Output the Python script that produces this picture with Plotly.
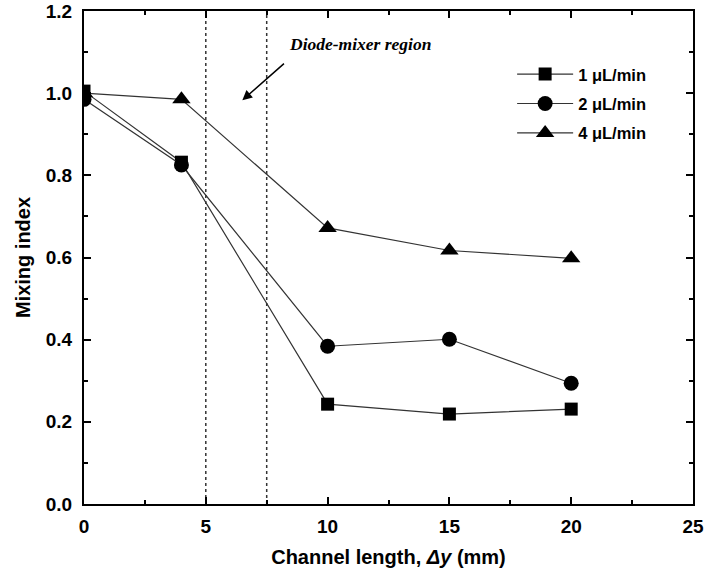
import plotly.graph_objects as go

x_vals = [0, 4, 10, 15, 20]
flow_1 = [1.005, 0.832, 0.243, 0.219, 0.231]
flow_2 = [0.985, 0.825, 0.384, 0.401, 0.294]
flow_4 = [1.000, 0.985, 0.672, 0.617, 0.598]
series_names = ["1 \u03bcL/min", "2 \u03bcL/min", "4 \u03bcL/min"]
region_bounds = [5, 7.5]

fig = go.Figure()
specs = [(flow_1, "square", 13), (flow_2, "circle", 15), (flow_4, "triangle-up", 16)]
for i, (name, (vals, sym, sz)) in enumerate(zip(series_names, specs)):
    fig.add_trace(go.Scatter(
        x=x_vals, y=vals, mode="lines+markers", name="<b>" + name + "</b>",
        legendgroup="g%d" % i,
        line=dict(color="#333333", width=1.2),
        marker=dict(symbol=sym, size=sz, color="black"),
    ))

for xb in region_bounds:
    fig.add_shape(type="line", x0=xb, x1=xb, y0=0, y1=1.2, xref="x", yref="y",
                  line=dict(color="#333333", width=1.5, dash="dot"), layer="below")

fig.add_annotation(
    x=6.5, y=0.983, xref="x", yref="y", ax=8.27, ay=1.075, axref="x", ayref="y",
    text="", showarrow=True, arrowhead=2, arrowsize=1.3, arrowwidth=1.5, arrowcolor="black",
)
fig.add_annotation(
    x=8.35, y=1.12, xref="x", yref="y", text="<b><i>Diode-mixer region</i></b>",
    showarrow=False, xanchor="left", yanchor="middle",
    font=dict(family="Liberation Serif", size=17.5, color="black"),
)

axis_common = dict(
    showline=True, linecolor="black", linewidth=2, mirror="allticks",
    ticks="inside", ticklen=7, tickwidth=2, tickcolor="black",
    showgrid=False, zeroline=False, automargin=False,
    tickfont=dict(family="Liberation Sans", size=19, color="black"),
)

fig.update_layout(
    width=707, height=584,
    margin=dict(l=84, r=14, t=11, b=80),
    paper_bgcolor="white", plot_bgcolor="white",
    font=dict(family="Liberation Sans", color="black"),
    xaxis=dict(range=[0, 25], dtick=5, tick0=0, tickformat="d",
               tickprefix="<b>", ticksuffix="</b>", ticklabelstandoff=4,
               minor=dict(dtick=2.5, ticks="inside", ticklen=4, tickwidth=1.5, tickcolor="black"),
               title=dict(text="<b>Channel length, <i>\u0394y</i> (mm)</b>",
                          font=dict(size=20), standoff=14),
               **axis_common),
    yaxis=dict(range=[0, 1.2], dtick=0.2, tick0=0, tickformat=".1f",
               tickprefix="<b>", ticksuffix="</b>", ticklabelstandoff=6,
               minor=dict(dtick=0.1, ticks="inside", ticklen=4, tickwidth=1.5, tickcolor="black"),
               title=dict(text="<b>Mixing index</b>", font=dict(size=20), standoff=10),
               **axis_common),
    legend=dict(x=0.703, y=0.907, xanchor="left", yanchor="top",
                bgcolor="rgba(0,0,0,0)", itemwidth=56, tracegroupgap=5,
                font=dict(family="Liberation Sans", size=16.5, color="black")),
)

fig.write_html("out.html")
